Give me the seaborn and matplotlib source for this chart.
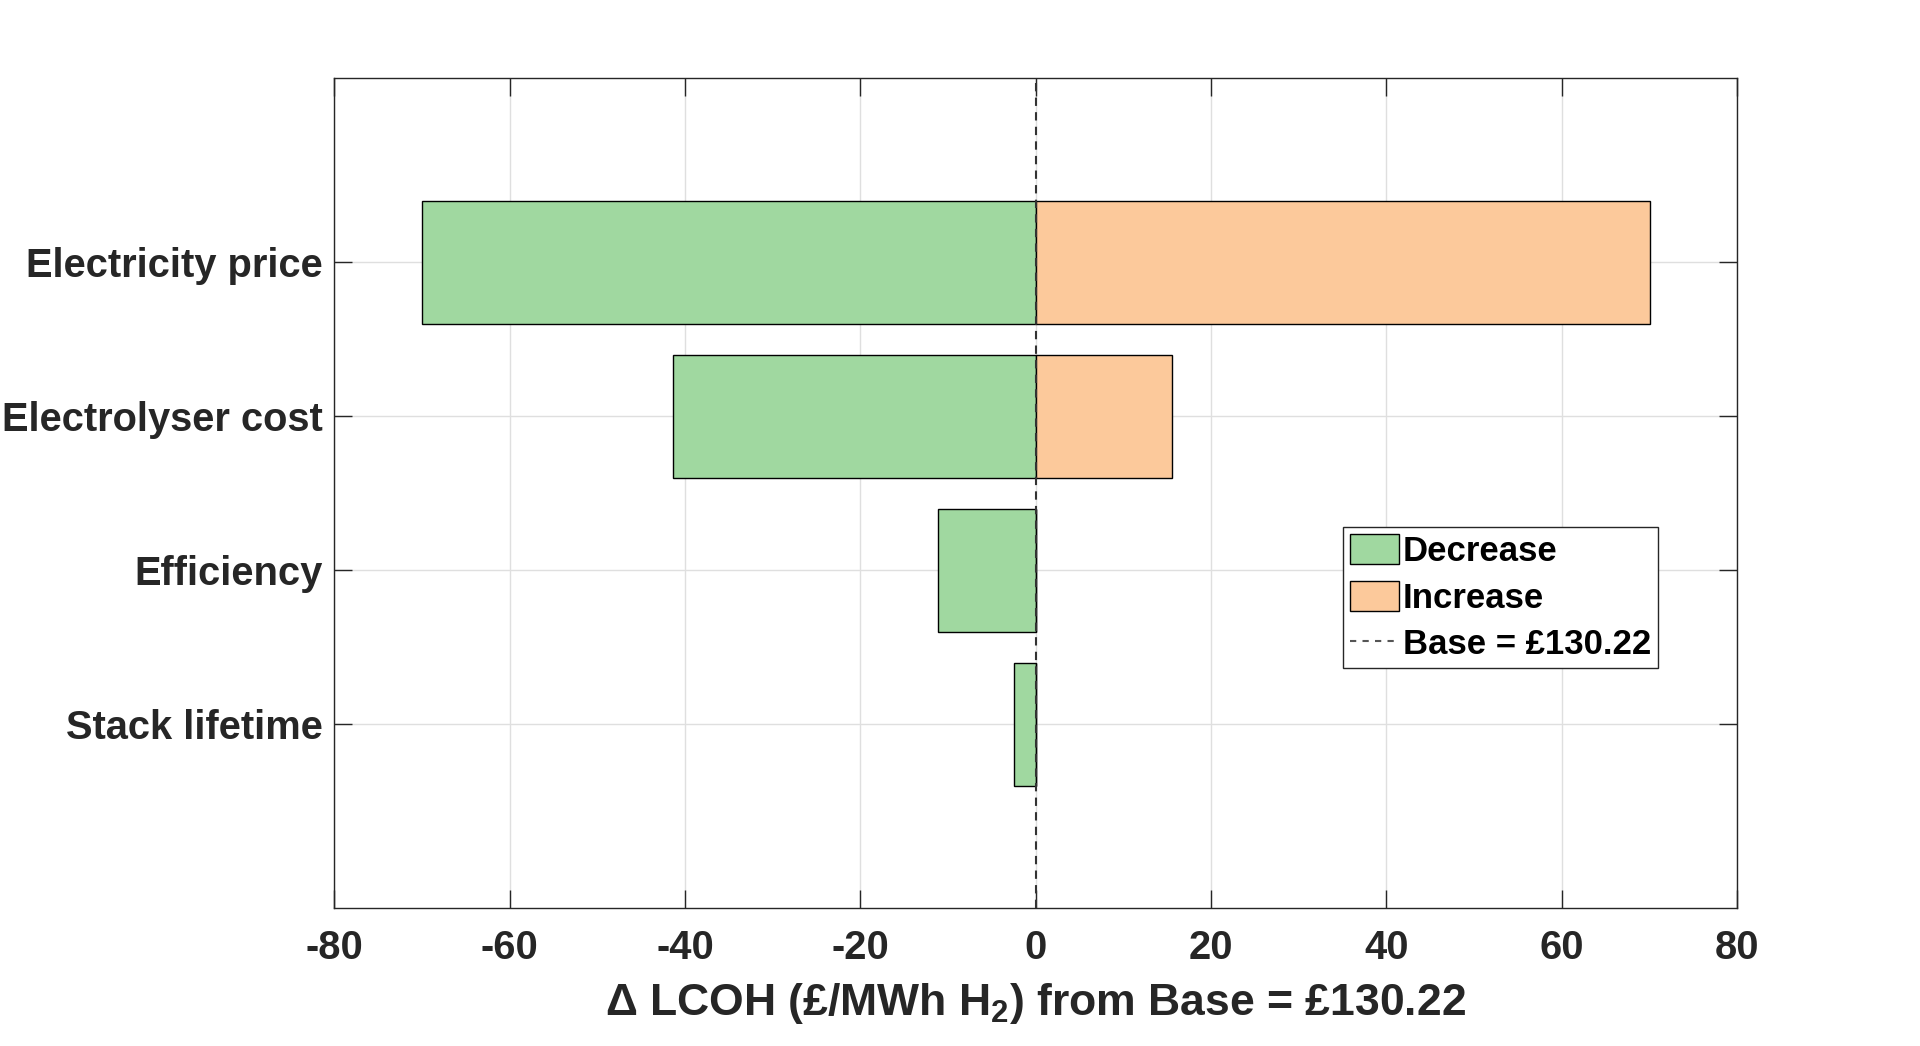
import matplotlib
matplotlib.use("Agg")
import matplotlib.pyplot as plt
import seaborn as sns
import pandas as pd
from matplotlib.patches import Patch
from matplotlib.lines import Line2D

categories = ["Electricity price", "Electrolyser cost", "Efficiency", "Stack lifetime"]
decrease = [-70.0, -41.4, -11.1, -2.5]
increase = [70.0, 15.5, 0.0, 0.0]
base_value = 130.22
xticks = [-80, -60, -40, -20, 0, 20, 40, 60, 80]

sns.set_theme(style="white")
plt.rcParams['font.family'] = ['Liberation Sans', 'DejaVu Sans']
plt.rcParams['font.weight'] = 'bold'
plt.rcParams['mathtext.fontset'] = 'custom'
plt.rcParams['mathtext.rm'] = 'Liberation Sans:bold'
plt.rcParams['mathtext.bf'] = 'Liberation Sans:bold'
plt.rcParams['mathtext.it'] = 'Liberation Sans:bold'

GREEN = '#a0d8a0'
ORANGE = '#fcc99b'
DARK = '#262626'

fig = plt.figure(figsize=(19.2, 10.46), dpi=100)
ax = fig.add_axes([0.1741, 0.1317, 0.7307, 0.7934])

df_dec = pd.DataFrame({"cat": categories, "val": decrease})
df_inc = pd.DataFrame({"cat": categories, "val": increase})

sns.barplot(data=df_dec, y="cat", x="val", orient="h", color=GREEN, width=0.8,
            edgecolor='black', linewidth=1.0, saturation=1, ax=ax, zorder=2)
sns.barplot(data=df_inc, y="cat", x="val", orient="h", color=ORANGE, width=0.8,
            edgecolor='black', linewidth=1.0, saturation=1, ax=ax, zorder=2)

ax.set_axisbelow(True)
ax.xaxis.grid(True, color='#dfdfdf', linewidth=1.0)
ax.yaxis.grid(True, color='#dfdfdf', linewidth=1.0)

ax.axvline(0, color='#333333', linestyle=(0, (4, 3)), linewidth=1.5, zorder=3)

ax.set_xlim(-80, 80)
ax.set_xticks(xticks)
ax.set_xticklabels([str(v) for v in xticks])
ax.set_ylim(3 + 1.195, -1.195)
ax.set_yticks(range(len(categories)))
ax.set_yticklabels(categories)
ax.set_ylabel("")
ax.set_xlabel("Δ LCOH (£/MWh H$\\mathregular{_2}$) from Base = £" + f"{base_value:.2f}",
              fontsize=32, fontweight='bold', color=DARK, labelpad=10)

ax.tick_params(axis='both', which='major', direction='in', length=13, width=1.0,
               color=DARK, top=True, right=True, bottom=True, left=True,
               labelcolor=DARK, labelsize=28.7)
ax.tick_params(axis='x', pad=15)
ax.tick_params(axis='y', pad=8.5)
for lab in ax.get_xticklabels() + ax.get_yticklabels():
    lab.set_fontweight('bold')

for s in ax.spines.values():
    s.set_visible(True)
    s.set_color(DARK)
    s.set_linewidth(1.0)

handles = [
    Patch(facecolor=GREEN, edgecolor='black', linewidth=1.0, label='Decrease'),
    Patch(facecolor=ORANGE, edgecolor='black', linewidth=1.0, label='Increase'),
    Line2D([0], [0], color='#555555', linestyle=(0, (3, 3)), linewidth=1.5,
           label='Base = £' + f"{base_value:.2f}"),
]
leg = ax.legend(handles=handles, loc='upper left', bbox_to_anchor=(0.719, 0.459),
                borderaxespad=0, frameon=True, fancybox=False, framealpha=1,
                edgecolor=DARK, prop={'weight': 'bold', 'size': 25},
                handlelength=1.4, handleheight=0.95, handletextpad=0.12,
                labelspacing=0.36, borderpad=0.2)
leg.get_frame().set_linewidth(1.0)
for t in leg.get_texts():
    t.set_color('black')

fig.savefig("out.png", dpi=100, facecolor='white')
